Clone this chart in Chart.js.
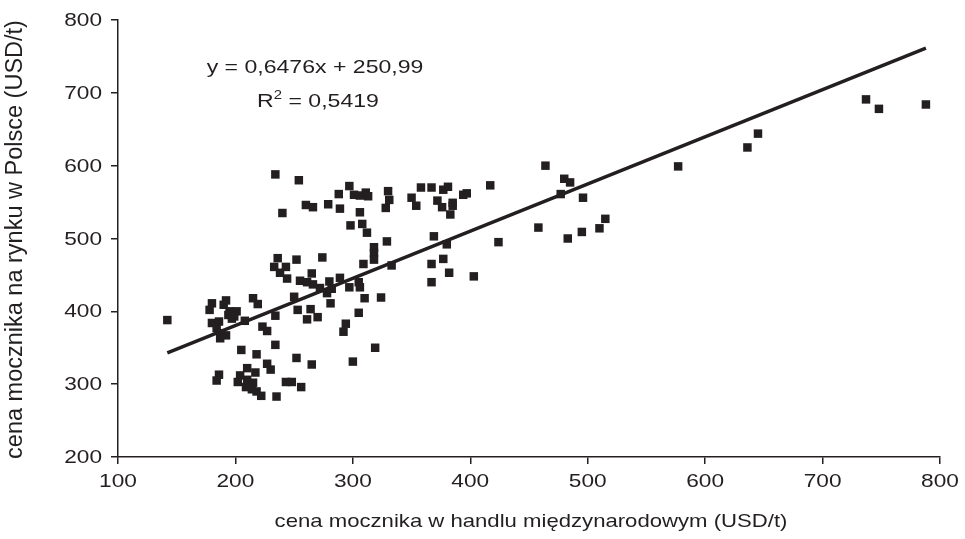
<!DOCTYPE html>
<html>
<head>
<meta charset="utf-8">
<script src="https://cdn.jsdelivr.net/npm/chart.js@4/dist/chart.umd.min.js"></script>
<style>
  html, body { margin: 0; padding: 0; background: #fff; }
  #wrap { width: 965px; height: 539px; position: relative; }
</style>
</head>
<body>
<div id="wrap"><canvas id="chart"></canvas></div>
<script>
// cena mocznika: handel międzynarodowy (x) vs rynek w Polsce (y), USD/t
const priceWorld = [
  142, 180, 178, 192, 190, 195, 201, 194, 197, 199, 215, 219, 180, 186, 184, 188, 187, 192,
  208, 234, 223, 227, 234, 205, 218, 227, 230, 186, 184, 210, 217, 204, 210, 202, 215, 209,
  214, 218, 222, 235, 243, 248, 256, 252, 265, 300, 319, 292, 294, 305, 310, 324, 281, 264,
  253, 261, 270, 250, 278, 255, 261, 266, 272, 280, 282, 289, 297, 305, 306, 265, 274, 252,
  236, 233, 238, 243, 244, 309, 318, 318, 318, 329, 333, 298, 308, 312, 306, 289, 279, 260,
  266, 240, 234, 254, 297, 288, 301, 306, 311, 313, 330, 331, 328, 350, 354, 358, 367, 372,
  376, 377, 381, 385, 385, 383, 394, 397, 367, 377, 369, 380, 382, 367, 403, 417, 424, 458,
  464, 480, 485, 477, 496, 515, 510, 495, 483, 577, 636, 645, 737, 748, 788
];
const pricePoland = [
  388, 411, 402, 415, 409, 400, 400, 395, 390, 393, 418, 410, 384, 386, 377, 370, 363, 367,
  387, 394, 379, 373, 354, 347, 341, 328, 320, 313, 305, 322, 316, 312, 306, 303, 302, 296,
  293, 290, 284, 283, 303, 303, 296, 336, 327, 331, 350, 372, 383, 398, 418, 419, 411, 403,
  402, 389, 392, 420, 425, 442, 440, 437, 432, 441, 431, 446, 433, 440, 433, 452, 474, 471,
  473, 461, 453, 461, 445, 465, 488, 480, 471, 496, 463, 518, 520, 508, 536, 541, 547, 546,
  543, 535, 588, 580, 572, 561, 560, 559, 563, 558, 565, 553, 542, 556, 545, 570, 570, 552,
  543, 567, 571, 549, 545, 533, 560, 562, 465, 472, 503, 492, 453, 440, 448, 573, 495, 515,
  600, 582, 577, 561, 556, 527, 514, 509, 500, 599, 625, 644, 691, 678, 684
];

// linia trendu (regresja liniowa)
const trendSlope = 0.6476;
const trendIntercept = 250.99;
const trendR2 = 0.5419;

const xTicks = [100, 200, 300, 400, 500, 600, 700, 800];
const yTicks = [200, 300, 400, 500, 600, 700, 800];
const xTitle = 'cena mocznika w handlu międzynarodowym (USD/t)';
const yTitle = 'cena mocznika na rynku w Polsce (USD/t)';

const ink = '#231f20';
const font = "'Liberation Sans', Arial, sans-serif";

const points = priceWorld.map((x, i) => ({ x, y: pricePoland[i] }));
const xMin = Math.min(...priceWorld), xMax = Math.max(...priceWorld);
const trend = [xMin, xMax].map(x => ({ x, y: trendSlope * x + trendIntercept }));

const fmt = v => String(v).replace('.', ',');

// tekst rozciągnięty w poziomie (szeroki krój jak w oryginalnym arkuszu)
function wideText(ctx, text, x, y, size, align, sx, rot) {
  ctx.save();
  ctx.translate(x, y);
  if (rot) { ctx.rotate(rot); ctx.scale(1, sx); } else { ctx.scale(sx, 1); }
  ctx.font = size + 'px ' + font;
  ctx.textAlign = align;
  ctx.textBaseline = 'middle';
  ctx.fillText(text, 0, 0);
  ctx.restore();
}

// etykiety osi, tytuły osi, równanie trendu
const textLayer = {
  id: 'textLayer',
  afterDraw(chart) {
    const { ctx, chartArea, scales } = chart;
    ctx.save();
    ctx.fillStyle = ink;
    xTicks.forEach(v => wideText(ctx, String(v), scales.x.getPixelForValue(v), chartArea.bottom + 25, 18.6, 'center', 1.22));
    yTicks.forEach(v => wideText(ctx, String(v), chartArea.left - 16, scales.y.getPixelForValue(v) + 1, 18.6, 'right', 1.22));
    wideText(ctx, xTitle, (chartArea.left + chartArea.right) / 2 + 2, chartArea.bottom + 65, 18.6, 'center', 1.19);
    wideText(ctx, yTitle, 15, (chartArea.top + chartArea.bottom) / 2 + 1, 23.5, 'center', 1.05, -Math.PI / 2);

    // y = ax + b  oraz  R²
    const cx = chartArea.left + 197;
    wideText(ctx, 'y = ' + fmt(trendSlope) + 'x + ' + fmt(trendIntercept), cx, chartArea.top + 48, 18.6, 'center', 1.24);
    const rest = ' = ' + fmt(trendR2);
    ctx.font = '18.6px ' + font;
    const wR = ctx.measureText('R').width * 1.24;
    const w2 = ctx.measureText('2').width * 0.65 * 1.24;
    const wRest = ctx.measureText(rest).width * 1.24;
    const x0 = cx + 3 - (wR + w2 + wRest) / 2;
    const yR = chartArea.top + 82;
    wideText(ctx, 'R', x0, yR, 18.6, 'left', 1.24);
    wideText(ctx, '2', x0 + wR, yR - 6, 12, 'left', 1.24);
    wideText(ctx, rest, x0 + wR + w2, yR, 18.6, 'left', 1.24);
    ctx.restore();
  }
};

new Chart(document.getElementById('chart'), {
  type: 'scatter',
  data: {
    datasets: [
      {
        label: 'dane',
        data: points,
        pointStyle: 'rect',
        pointRadius: 6,
        pointBackgroundColor: ink,
        pointBorderColor: ink,
        pointBorderWidth: 0,
      },
      {
        type: 'line',
        label: 'trend',
        data: trend,
        borderColor: ink,
        borderWidth: 3.5,
        pointRadius: 0,
        fill: false,
      },
    ],
  },
  plugins: [textLayer],
  options: {
    responsive: true, maintainAspectRatio: false,
    animation: false,
    layout: { padding: { top: 20, right: 25, left: 4, bottom: 4 } },
    plugins: { legend: { display: false }, tooltip: { enabled: false } },
    scales: {
      x: {
        type: 'linear', min: 100, max: 800,
        afterBuildTicks: s => { s.ticks = xTicks.map(v => ({ value: v })); },
        afterFit: s => { s.height = 78; },
        border: { color: ink, width: 1.5 },
        grid: { drawOnChartArea: false, color: ink, lineWidth: 1.5, tickLength: 7 },
        ticks: { display: false },
      },
      y: {
        type: 'linear', min: 200, max: 800,
        afterBuildTicks: s => { s.ticks = yTicks.map(v => ({ value: v })); },
        afterFit: s => { s.width = 114; },
        border: { color: ink, width: 1.5 },
        grid: { drawOnChartArea: false, color: ink, lineWidth: 1.5, tickLength: 7 },
        ticks: { display: false },
      },
    },
  },
});
</script>
</body>
</html>
